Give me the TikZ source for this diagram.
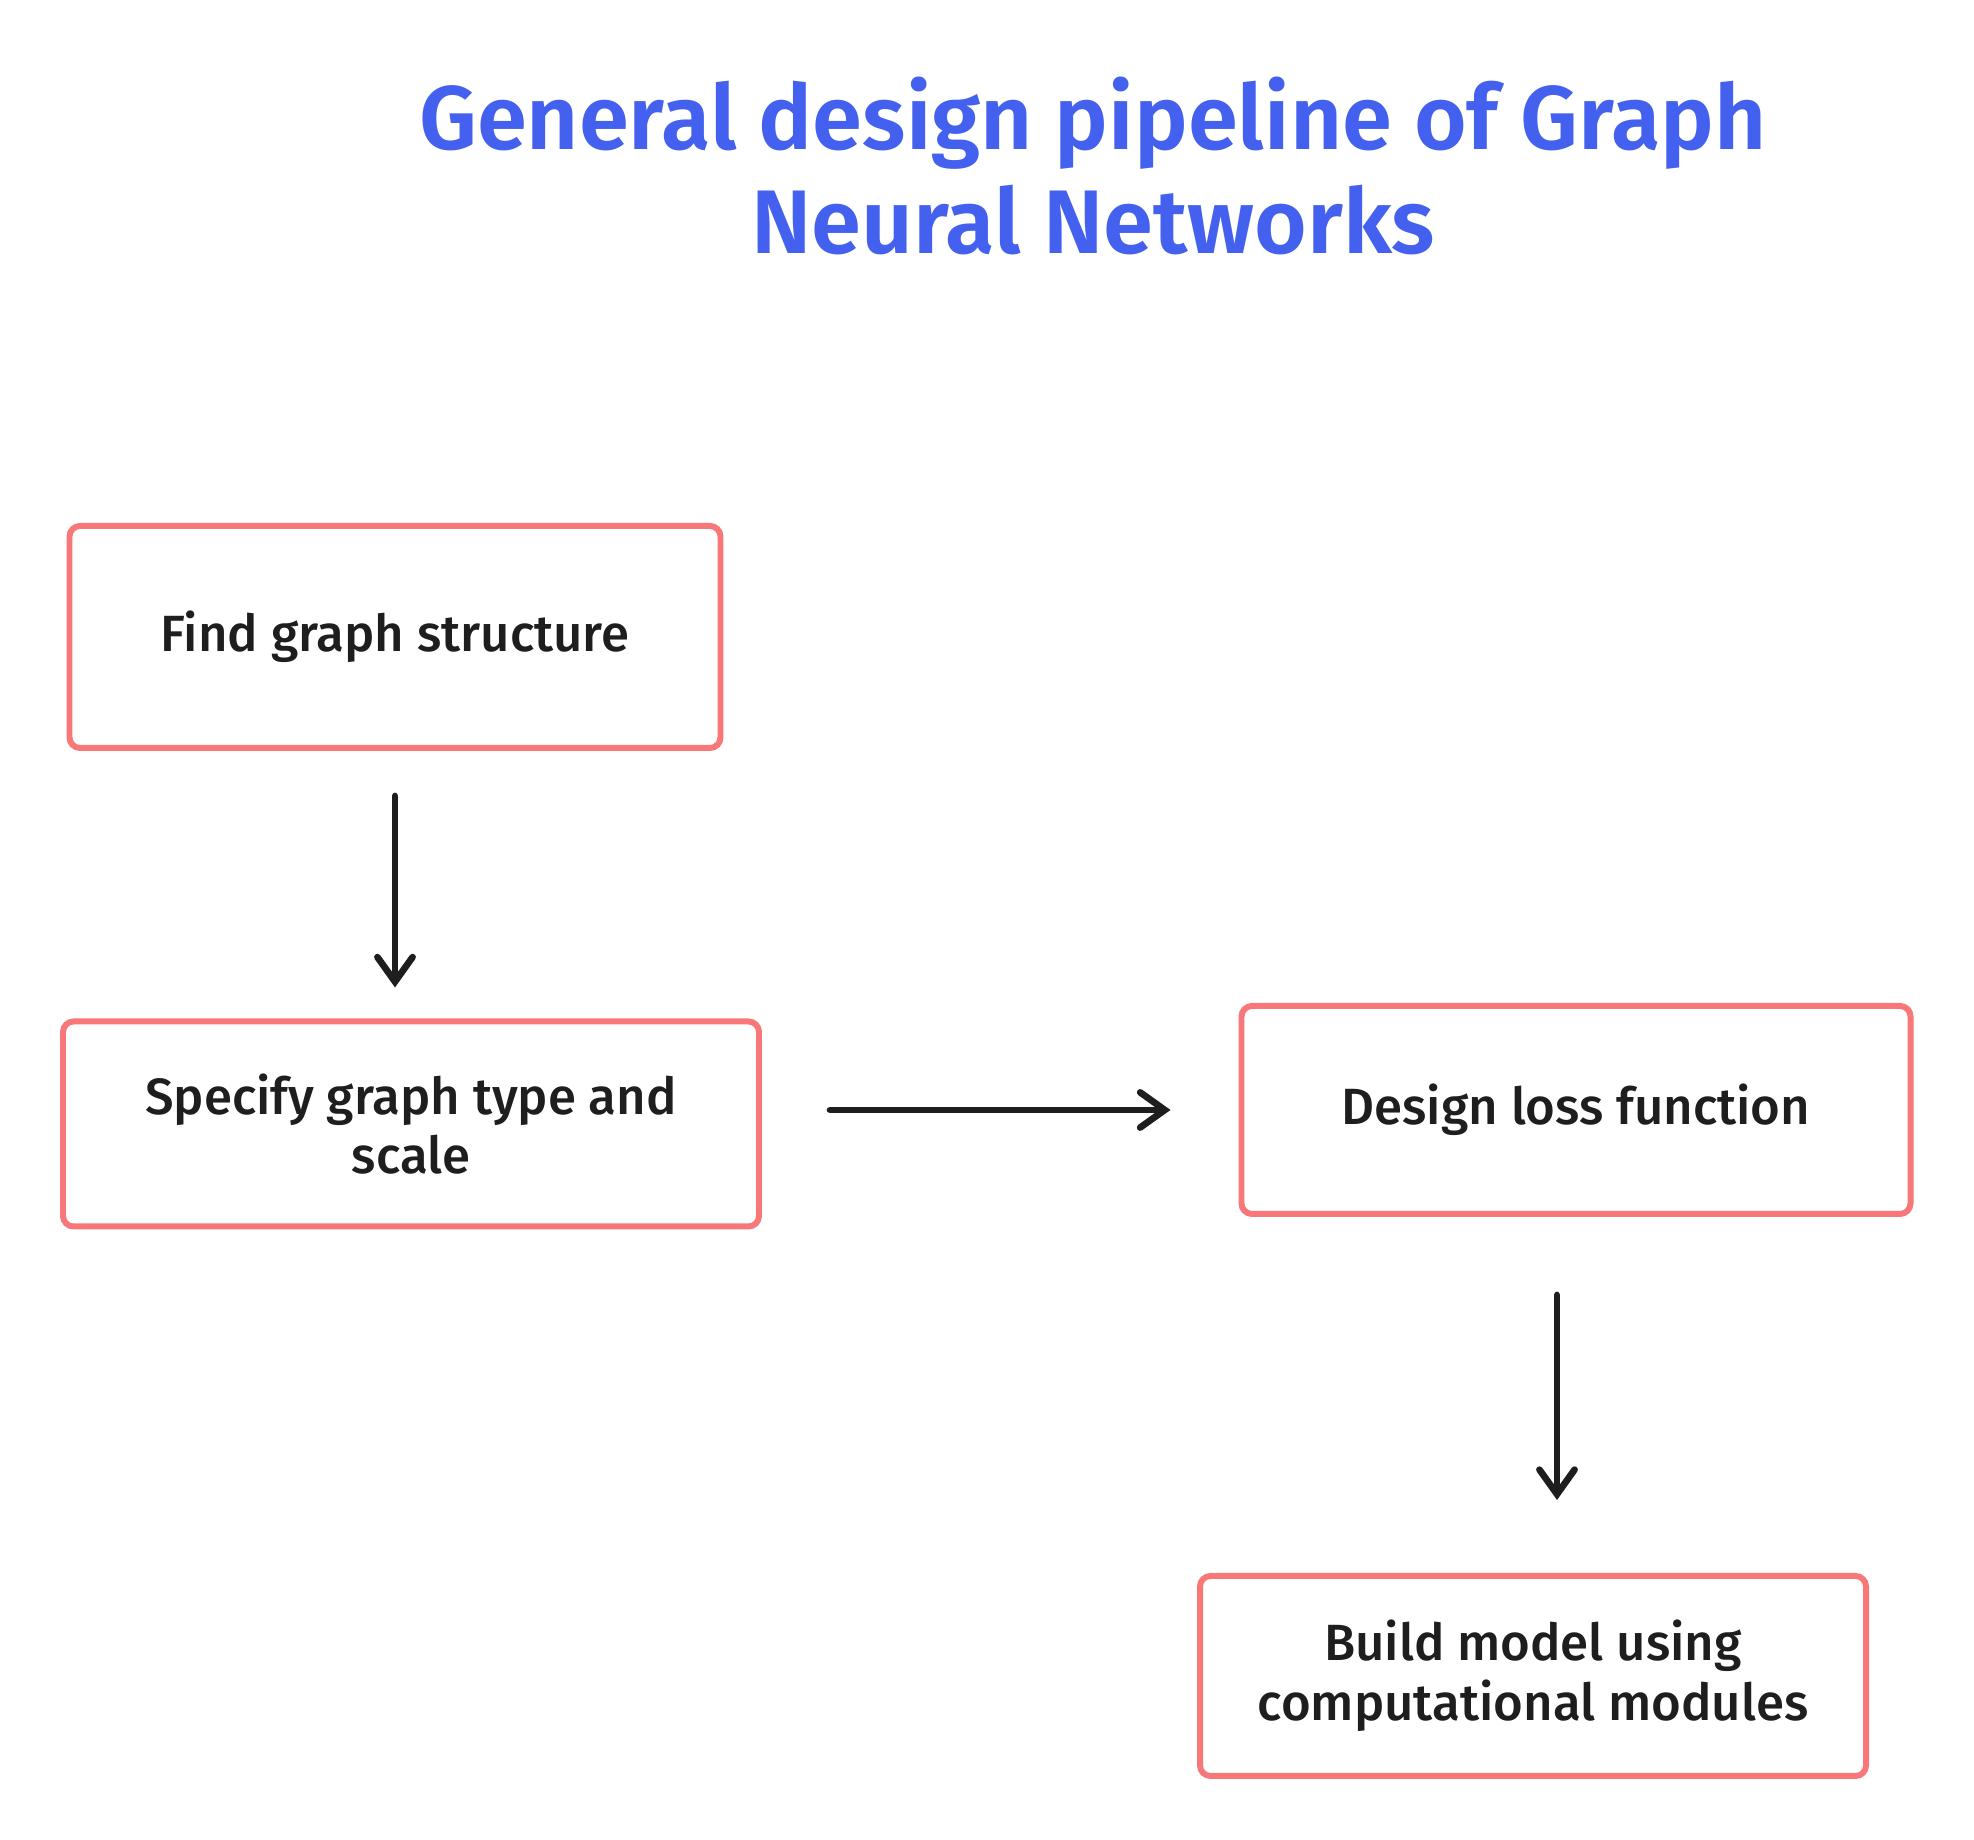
\documentclass[tikz,border=0pt]{standalone}
\usepackage{fontspec}
\setmainfont{Fira Sans}[UprightFont=* Medium, BoldFont=* SemiBold]
\usepackage{tikz}
\usetikzlibrary{arrows.meta,positioning}
\definecolor{titleblue}{RGB}{67,97,238}
\definecolor{boxred}{RGB}{248,120,121}
\definecolor{inkblack}{RGB}{30,30,30}
\tikzset{
  stepbox/.style={rectangle,draw=boxred,line width=1.7pt,rounded corners=3pt,
    align=center,text=inkblack,font=\fontsize{14.5}{17}\selectfont},
  flowarrow/.style={draw=inkblack,line width=1.9pt,line cap=round,
    -{Straight Barb[length=7pt,width=10pt,line cap=round]}}
}
\newcommand{\stepNode}{\node[stepbox]}

\begin{document}
\begin{tikzpicture}
    \useasboundingbox (0,0) rectangle (19.74,18.40);

    \node[text=titleblue,align=center,font=\bfseries\fontsize{25.7}{29.6}\selectfont] (title) at (10.93,16.74)
        {General design pipeline of Graph\\Neural Networks};

    % the four steps
    \stepNode[minimum width=6.51cm,minimum height=2.22cm] (find) at (3.95,12.03) {Find graph structure};
    \stepNode[minimum width=6.96cm,minimum height=2.05cm] (specify) at (4.11,7.16) {Specify graph type and\\scale};
    \stepNode[minimum width=6.69cm,minimum height=2.08cm] (design) at (15.76,7.30) {Design loss function};
    \stepNode[minimum width=6.66cm,minimum height=2.00cm] (build) at (15.33,1.64) {Build model using\\computational modules};

    % connectors
    \draw[flowarrow,shorten <=0.45cm,shorten >=0.31cm] (find.south) -- (find.south |- specify.north);
    \draw[flowarrow,shorten <=0.68cm,shorten >=0.68cm] (specify.east |- design.west) -- (design.west);
    \draw[flowarrow,shorten <=0.78cm,shorten >=0.73cm] ([xshift=-0.19cm]design.south) -- ([xshift=-0.19cm]design.south |- build.north);

\end{tikzpicture}
\end{document}
